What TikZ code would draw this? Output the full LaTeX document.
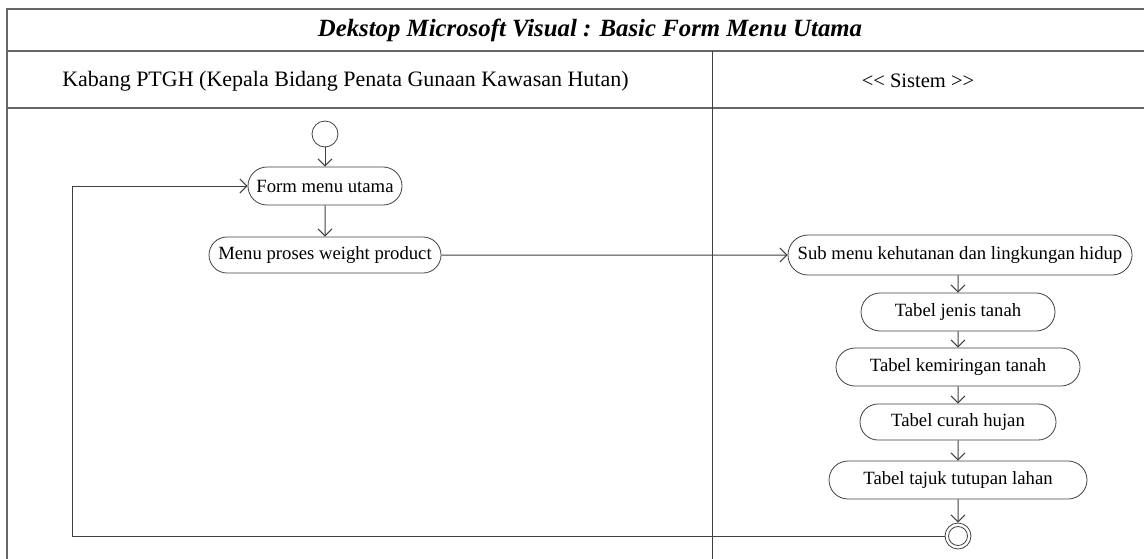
\documentclass[tikz,border=0pt]{standalone}
\usepackage{fontspec}
\setmainfont{Liberation Serif}
\usetikzlibrary{arrows.meta,shapes.misc}
\begin{document}
\begin{tikzpicture}[x=1pt,y=-1pt,
  ln/.style={draw=black!75,line width=1pt},
  arr/.style={ln,-{Straight Barb[length=7pt,width=14pt]}},
  act/.style={rounded rectangle,draw=black!75,line width=0.8pt,minimum height=38pt,inner sep=0pt,font=\fontsize{18.7}{22}\selectfont},
  frame/.style={draw=black!60,line width=1.6pt},
  lane/.style={draw=black!75,line width=1pt},
  hdr/.style={font=\fontsize{22}{26}\selectfont}]
\useasboundingbox (0,0) rectangle (1144,558);
% frame
\draw[frame] (7,565) -- (7,9) -- (1150,9);
\draw[frame] (7,51) -- (1150,51);
\draw[frame] (7,108) -- (1150,108);
\draw[lane] (712,51) -- (712,565);
% headers
\node (title) at (590,30) {\fontsize{24.8}{28}\selectfont\bfseries\itshape Dekstop Microsoft Visual : Basic Form Menu Utama};
\node[hdr] (h1) at (345.5,81) {Kabang PTGH (Kepala Bidang Penata Gunaan Kawasan Hutan)};
\node[font=\fontsize{20.5}{24}\selectfont] (h2) at (918,81) {{<}{<} Sistem {>}{>}};
% nodes
\node[circle,draw=black!75,line width=0.8pt,minimum size=26pt,inner sep=0pt] (init) at (325,134) {};
\node[act,minimum width=154pt] (form) at (325,186) {Form menu utama};
\node[act,minimum width=232pt,minimum height=36pt] (menu) at (325,255) {Menu proses weight product};
\node[act,minimum width=344pt,minimum height=40pt] (sub) at (960,255) {Sub menu kehutanan dan lingkungan hidup};
\node[act,minimum width=194pt] (jenis) at (958,312) {Tabel jenis tanah};
\node[act,minimum width=244pt] (miring) at (958,367) {Tabel kemiringan tanah};
\node[act,minimum width=196pt,minimum height=36pt] (curah) at (958,422) {Tabel curah hujan};
\node[act,minimum width=258pt] (tajuk) at (958,480) {Tabel tajuk tutupan lahan};
\node[circle,draw=black!75,line width=0.8pt,minimum size=26pt,inner sep=0pt] (final) at (958,536) {};
\node[circle,draw=black!75,line width=0.8pt,minimum size=19pt,inner sep=0pt] (finalin) at (958,536) {};
\coordinate (c1) at (72,536);
\coordinate (c2) at (72,186);
% edges
\draw[arr] (init) -- (form);
\draw[arr] (form) -- (menu);
\draw[arr] (menu) -- (sub);
\draw[arr] (sub.south -| jenis.north) -- (jenis);
\draw[arr] (jenis) -- (miring);
\draw[arr] (miring) -- (curah);
\draw[arr] (curah) -- (tajuk);
\draw[arr] (tajuk) -- (final);
\draw[arr] (final.west) -- (c1) -- (c2) -- (form.west);
\end{tikzpicture}
\end{document}
